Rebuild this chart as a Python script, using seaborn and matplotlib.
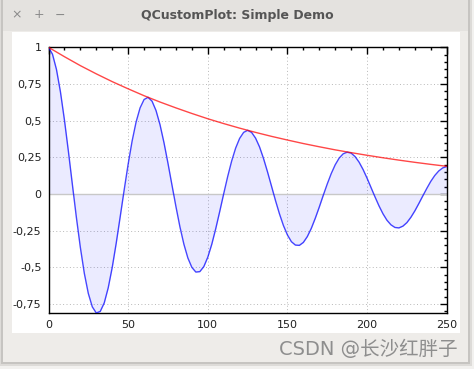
import matplotlib
matplotlib.use("Agg")
import matplotlib.pyplot as plt
import seaborn as sns
import pandas as pd
from matplotlib.patches import Rectangle
from matplotlib.ticker import AutoMinorLocator, FuncFormatter

# ---------------- data ----------------
x_blue = [i * 2.5 for i in range(101)]
y_blue = [
    1.000, 0.953, 0.849, 0.696, 0.505, 0.290, 0.064, -0.159, -0.364, -0.541,
    -0.678, -0.769, -0.811, -0.800, -0.742, -0.639, -0.501, -0.336, -0.156, 0.027,
    0.203, 0.361, 0.491, 0.587, 0.644, 0.659, 0.633, 0.569, 0.473, 0.350,
    0.210, 0.062, -0.085, -0.223, -0.342, -0.436, -0.500, -0.532, -0.529, -0.495,
    -0.431, -0.343, -0.236, -0.119, 0.002, 0.119, 0.225, 0.313, 0.379, 0.420,
    0.434, 0.420, 0.381, 0.321, 0.242, 0.151, 0.054, -0.044, -0.135, -0.215,
    -0.279, -0.325, -0.348, -0.350, -0.330, -0.290, -0.234, -0.165, -0.089, -0.009,
    0.068, 0.139, 0.199, 0.245, 0.274, 0.285, 0.279, 0.255, 0.217, 0.167,
    0.108, 0.044, -0.020, -0.081, -0.135, -0.179, -0.210, -0.228, -0.231, -0.219,
    -0.195, -0.159, -0.115, -0.065, -0.013, 0.038, 0.086, 0.126, 0.157, 0.178,
    0.187,
]
x_red = [i * 10 for i in range(26)]
y_red = [
    1.000, 0.936, 0.875, 0.819, 0.766, 0.717, 0.670, 0.627, 0.587, 0.549,
    0.513, 0.480, 0.449, 0.420, 0.393, 0.368, 0.344, 0.322, 0.301, 0.282,
    0.264, 0.247, 0.231, 0.216, 0.202, 0.189,
]
x_ticks = [0, 50, 100, 150, 200, 250]
y_ticks = [-0.75, -0.5, -0.25, 0, 0.25, 0.5, 0.75, 1]
window_title = "QCustomPlot: Simple Demo"
watermark = "CSDN @长沙红胖子"

df_blue = pd.DataFrame({"x": x_blue, "y": y_blue})
df_red = pd.DataFrame({"x": x_red, "y": y_red})

# ---------------- figure ----------------
sns.set_theme(style="white")
plt.rcParams["font.family"] = ["DejaVu Sans", "Noto Sans CJK SC"]

W, H = 474, 369
fig = plt.figure(figsize=(W / 100, H / 100), dpi=100)
fig.patch.set_facecolor("#f2f1ef")


def rect(x0, y0, x1, y1, color, z=0):
    fig.add_artist(Rectangle((x0 / W, 1 - y1 / H), (x1 - x0) / W, (y1 - y0) / H,
                             transform=fig.transFigure, facecolor=color,
                             edgecolor="none", zorder=z))


# soft window shadow, body, title bar, white content area
rect(0, 0, 472, 366, "#dddbd8", z=-5)
rect(1, 0, 470, 364, "#c6c4c1", z=-4)
rect(3, 0, 468, 362, "#eeece9", z=-3)
rect(3, 0, 468, 31, "#e4e2df", z=-2)
rect(12, 32, 460, 333, "#ffffff", z=-1)

fig.text(237 / W, 1 - 15 / H, window_title, ha="center", va="center",
         fontsize=9, fontweight="bold", color="#555555")
for bx, sym in [(17, "×"), (39, "+"), (60, "−")]:
    fig.text(bx / W, 1 - 15 / H, sym, ha="center", va="center",
             fontsize=9, color="#8a8a8a")

fig.text(458 / W, 1 - 349 / H, watermark, ha="right", va="center",
         fontsize=14, color="#8e8e8e",
         family=["DejaVu Sans", "Noto Sans CJK SC"])

# ---------------- axes ----------------
left, right, top, bottom = 48.5, 446.7, 47.3, 313.0
ax = fig.add_axes([left / W, 1 - bottom / H, (right - left) / W, (bottom - top) / H])
ax.set_facecolor("white")

ax.fill_between(df_blue["x"], df_blue["y"], 0, color=(0, 0, 1, 20 / 255),
                linewidth=0, zorder=1)
ax.axhline(0, color="#c8c8c8", lw=1, zorder=1.5)
sns.lineplot(data=df_blue, x="x", y="y", ax=ax, color="#0000ff", lw=1,
             alpha=0.72, zorder=3)
sns.lineplot(data=df_red, x="x", y="y", ax=ax, color="#ff0000", lw=1,
             alpha=0.72, zorder=3)

ax.set_xlim(min(x_blue), max(x_blue))
ax.set_ylim(min(y_blue), max(y_blue))
ax.set_xlabel("")
ax.set_ylabel("")

ax.set_xticks(x_ticks)
ax.set_yticks(y_ticks)
ax.xaxis.set_minor_locator(AutoMinorLocator(5))
ax.yaxis.set_minor_locator(AutoMinorLocator(5))


def fmt(v, pos):
    return ("%g" % v).replace(".", ",")


ax.yaxis.set_major_formatter(FuncFormatter(fmt))
ax.xaxis.set_major_formatter(FuncFormatter(fmt))

ax.tick_params(which="major", direction="in", length=5, width=1, color="black",
               top=True, right=True, labeltop=False, labelright=False,
               labelsize=8, labelcolor="#202020", pad=5)
ax.tick_params(which="minor", direction="in", length=2.5, width=1, color="black",
               top=True, right=True)

ax.grid(True, which="major", linestyle=(0, (1, 2.5)), color="#b8b8b8",
        linewidth=0.7, zorder=0)
ax.set_axisbelow(True)
for s in ax.spines.values():
    s.set_visible(True)
    s.set_color("black")
    s.set_linewidth(1)

fig.savefig("out.png", dpi=100, facecolor=fig.get_facecolor())
